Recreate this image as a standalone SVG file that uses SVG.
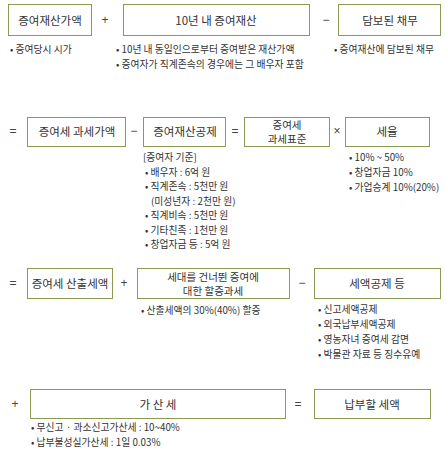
<svg xmlns="http://www.w3.org/2000/svg" width="446" height="460" viewBox="0 0 446 460">
<style>
.box{fill:#fff;stroke:#8a9a50;stroke-width:1}
.bt{font-family:"Noto Sans CJK KR","Noto Sans",sans-serif;font-size:11.5px;fill:#333;text-anchor:middle;dominant-baseline:central}
.bt2{font-family:"Noto Sans CJK KR","Noto Sans",sans-serif;font-size:10.5px;fill:#333;text-anchor:middle;dominant-baseline:central}
.op{font-family:"Liberation Sans","Noto Sans CJK KR",sans-serif;font-size:12px;fill:#444;text-anchor:middle;dominant-baseline:central}
.li{font-family:"Noto Sans CJK KR","Noto Sans",sans-serif;font-size:9.8px;fill:#333;dominant-baseline:central}
</style>
<rect width="446" height="460" fill="#fff"/>
<g id="connectors">
<text class="op" x="105" y="20">+</text>
<text class="op" x="326" y="20">−</text>
<text class="op" x="13" y="131">=</text>
<text class="op" x="134" y="131">−</text>
<text class="op" x="235" y="131">=</text>
<text class="op" x="337" y="131">×</text>
<text class="op" x="13" y="283">=</text>
<text class="op" x="124" y="283">+</text>
<text class="op" x="302" y="283">−</text>
<text class="op" x="15" y="404">+</text>
<text class="op" x="298" y="404">=</text>
</g>
<g id="n1"><rect class="box" x="8.5" y="4.5" width="83" height="31"/><text class="bt" x="50" y="20">증여재산가액</text>
<text class="li" x="10" y="49">• 증여당시 시가</text></g>
<g id="n2"><rect class="box" x="123.5" y="4.5" width="186" height="31"/><text class="bt" x="216" y="20">10년 내 증여재산</text>
<text class="li" x="116" y="49">• 10년 내 동일인으로부터 증여받은 재산가액</text>
<text class="li" x="116" y="64">• 증여자가 직계존속의 경우에는 그 배우자 포함</text></g>
<g id="n3"><rect class="box" x="338.5" y="4.5" width="102" height="31"/><text class="bt" x="390" y="20">담보된 채무</text>
<text class="li" x="334" y="49">• 증여재산에 담보된 채무</text></g>
<g id="n4"><rect class="box" x="27.5" y="117.5" width="98" height="29"/><text class="bt" x="77" y="131">증여세 과세가액</text></g>
<g id="n5"><rect class="box" x="143.5" y="117.5" width="82" height="29"/><text class="bt" x="185" y="131">증여재산공제</text>
<text class="li" x="143" y="157">[증여자 기준]</text>
<text class="li" x="145" y="171.5">• 배우자 : 6억 원</text>
<text class="li" x="145" y="186">• 직계존속 : 5천만 원</text>
<text class="li" x="151" y="200.5">(미성년자 : 2천만 원)</text>
<text class="li" x="145" y="215">• 직계비속 : 5천만 원</text>
<text class="li" x="145" y="229.5">• 기타친족 : 1천만 원</text>
<text class="li" x="145" y="244">• 창업자금 등 : 5억 원</text></g>
<g id="n6"><rect class="box" x="244.5" y="117.5" width="85" height="29"/><text class="bt2" x="287" y="124.5">증여세</text><text class="bt2" x="287" y="138">과세표준</text></g>
<g id="n7"><rect class="box" x="345.5" y="117.5" width="84" height="29"/><text class="bt" x="387" y="131">세율</text>
<text class="li" x="349" y="157">• 10% ~ 50%</text>
<text class="li" x="349" y="172">• 창업자금 10%</text>
<text class="li" x="349" y="187">• 가업승계 10%(20%)</text></g>
<g id="n8"><rect class="box" x="27.5" y="268.5" width="85" height="30"/><text class="bt" x="70" y="283">증여세 산출세액</text></g>
<g id="n9"><rect class="box" x="137.5" y="268.5" width="152" height="30"/><text class="bt2" x="213" y="276.5">세대를 건너뛴 증여에</text><text class="bt2" x="213" y="290">대한 할증과세</text>
<text class="li" x="141" y="310">• 산출세액의 30%(40%) 할증</text></g>
<g id="n10"><rect class="box" x="314.5" y="268.5" width="126" height="30"/><text class="bt" x="377" y="283">세액공제 등</text>
<text class="li" x="318" y="309">• 신고세액공제</text>
<text class="li" x="318" y="324">• 외국납부세액공제</text>
<text class="li" x="318" y="339">• 영농자녀 증여세 감면</text>
<text class="li" x="318" y="354">• 박물관 자료 등 징수유예</text></g>
<g id="n11"><rect class="box" x="30.5" y="389.5" width="255" height="29"/><text class="bt" x="158" y="404">가 산 세</text>
<text class="li" x="31" y="427">• 무신고 · 과소신고가산세 : 10~40%</text>
<text class="li" x="31" y="442">• 납부불성실가산세 : 1일 0.03%</text></g>
<g id="n12"><rect class="box" x="314.5" y="389.5" width="116" height="29"/><text class="bt" x="372" y="404">납부할 세액</text></g>
</svg>
